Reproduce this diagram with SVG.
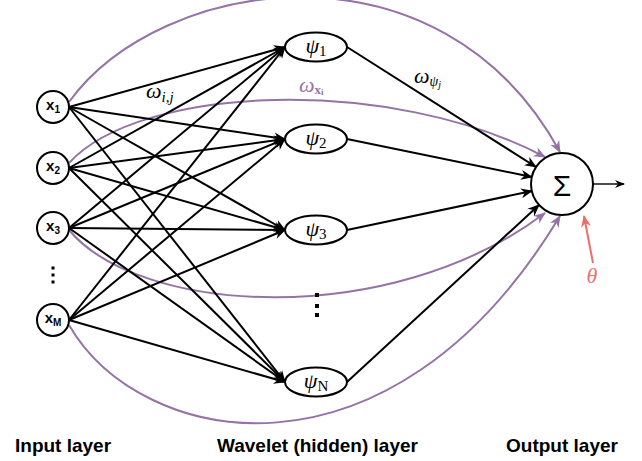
<svg xmlns="http://www.w3.org/2000/svg" width="642" height="461" viewBox="0 0 642 461">
<style>
.node{fill:#fff;stroke:#000;stroke-width:2}
.e{fill:none;stroke:#000;stroke-width:2;marker-end:url(#ab)}
.p{fill:none;stroke:#9673A6;stroke-width:2;marker-end:url(#ap)}
.xl{font-family:"Liberation Sans",Arial,sans-serif;font-weight:bold;font-size:15px}
.xs{font-size:10px}
.psi{font-family:"Liberation Serif","Times New Roman",serif;font-style:italic;font-size:22px}
.sub{font-style:normal;font-size:15px}
.m{font-family:"Liberation Serif","Times New Roman",serif;font-style:italic;font-size:22px}
.lay{font-family:"Liberation Sans",Arial,sans-serif;font-weight:bold;font-size:19px}
</style>
<defs>
<marker id="ab" markerUnits="userSpaceOnUse" markerWidth="14" markerHeight="12" viewBox="-12 -6 14 12" refX="0" refY="0" orient="auto"><path d="M1,0 L-11,-5 L-7.5,0 L-11,5 Z" fill="#000"/></marker>
<marker id="ap" markerUnits="userSpaceOnUse" markerWidth="14" markerHeight="12" viewBox="-12 -6 14 12" refX="0" refY="0" orient="auto"><path d="M1,0 L-11,-5 L-7.5,0 L-11,5 Z" fill="#9673A6"/></marker>
<marker id="ar" markerUnits="userSpaceOnUse" markerWidth="14" markerHeight="12" viewBox="-12 -6 14 12" refX="0" refY="0" orient="auto"><path d="M1,0 L-11,-5 L-7.5,0 L-11,5 Z" fill="#EE6E68"/></marker>
<marker id="ao" markerUnits="userSpaceOnUse" markerWidth="12" markerHeight="10" viewBox="-10 -5 12 10" refX="0" refY="0" orient="auto"><path d="M1,0 L-9,-4 L-6,0 L-9,4 Z" fill="#000"/></marker>
</defs>
<g id="connectors">
<path class="p" d="M69,102 C160,-24 440,-68 560,152"/>
<path class="p" d="M69,163 C140,85 390,75 545,157"/>
<path class="p" d="M69,230 C140,315 390,330 545,213"/>
<path class="p" d="M69,325 C140,448 390,498 560,216"/>
<path class="e" d="M69,107 L285,47"/>
<path class="e" d="M69,107 L285,139"/>
<path class="e" d="M69,107 L285,230"/>
<path class="e" d="M69,107 L285,382"/>
<path class="e" d="M69,168 L285,47"/>
<path class="e" d="M69,168 L285,139"/>
<path class="e" d="M69,168 L285,230"/>
<path class="e" d="M69,168 L285,382"/>
<path class="e" d="M69,228 L285,47"/>
<path class="e" d="M69,228 L285,139"/>
<path class="e" d="M69,228 L285,230"/>
<path class="e" d="M69,228 L285,382"/>
<path class="e" d="M69,320 L285,47"/>
<path class="e" d="M69,320 L285,139"/>
<path class="e" d="M69,320 L285,230"/>
<path class="e" d="M69,320 L285,382"/>
<path class="e" d="M347,47 L536,167"/>
<path class="e" d="M347,139 L532,177"/>
<path class="e" d="M347,230 L532,191"/>
<path class="e" d="M347,382 L539,205"/>
<path d="M593,184 L624,184" fill="none" stroke="#000" stroke-width="1.4" marker-end="url(#ao)"/>
<path d="M593,263 L584,216" fill="none" stroke="#EE6E68" stroke-width="2" marker-end="url(#ar)"/>
<text class="m" x="146" y="98">ω<tspan font-size="15" dy="4">i,j</tspan></text>
<text class="m" x="299" y="92" fill="#9673A6">ω<tspan font-style="normal" font-weight="bold" font-size="13" dy="2">x</tspan><tspan font-style="normal" font-weight="bold" font-size="9" dy="1">i</tspan></text>
<text class="m" x="414" y="83">ω<tspan font-size="14" dy="3">ψ</tspan><tspan font-size="10" dy="2">j</tspan></text>
<text class="m" x="592" y="283" text-anchor="middle" fill="#EE6E68">θ</text>
</g>
<g id="x1"><circle class="node" cx="53" cy="107" r="16"/><text class="xl" x="53" y="110" text-anchor="middle">x<tspan class="xs" dy="3">1</tspan></text></g>
<g id="x2"><circle class="node" cx="53" cy="168" r="16"/><text class="xl" x="53" y="171" text-anchor="middle">x<tspan class="xs" dy="3">2</tspan></text></g>
<g id="x3"><circle class="node" cx="53" cy="228" r="16"/><text class="xl" x="53" y="231" text-anchor="middle">x<tspan class="xs" dy="3">3</tspan></text></g>
<g id="xdots" fill="#000"><rect x="51.5" y="266.5" width="3" height="3"/><rect x="51.5" y="273.5" width="3" height="3"/><rect x="51.5" y="280.5" width="3" height="3"/></g>
<g id="xM"><circle class="node" cx="53" cy="320" r="16"/><text class="xl" x="53" y="323" text-anchor="middle">x<tspan class="xs" dy="3">M</tspan></text></g>
<g id="psi1"><ellipse class="node" cx="316" cy="47" rx="31" ry="14.5"/><text class="psi" x="316" y="53" text-anchor="middle">ψ<tspan class="sub" dy="3">1</tspan></text></g>
<g id="psi2"><ellipse class="node" cx="316" cy="139" rx="31" ry="14.5"/><text class="psi" x="316" y="145" text-anchor="middle">ψ<tspan class="sub" dy="3">2</tspan></text></g>
<g id="psi3"><ellipse class="node" cx="316" cy="230" rx="31" ry="14.5"/><text class="psi" x="316" y="236" text-anchor="middle">ψ<tspan class="sub" dy="3">3</tspan></text></g>
<g id="psidots" fill="#000"><rect x="315" y="293" width="4" height="4"/><rect x="315" y="304" width="4" height="4"/><rect x="315" y="313" width="4" height="4"/></g>
<g id="psiN"><ellipse class="node" cx="316" cy="382" rx="31" ry="14.5"/><text class="psi" x="316" y="388" text-anchor="middle">ψ<tspan class="sub" font-style="italic" dy="3">N</tspan></text></g>
<g id="sigma"><circle class="node" cx="562" cy="184" r="31"/><text x="562" y="196" text-anchor="middle" font-family="Liberation Sans,Arial,sans-serif" font-size="30">Σ</text></g>
<g id="labels">
<text class="lay" x="15" y="452">Input layer</text>
<text class="lay" x="217" y="452">Wavelet (hidden) layer</text>
<text class="lay" x="506" y="452">Output layer</text>
</g>
</svg>
